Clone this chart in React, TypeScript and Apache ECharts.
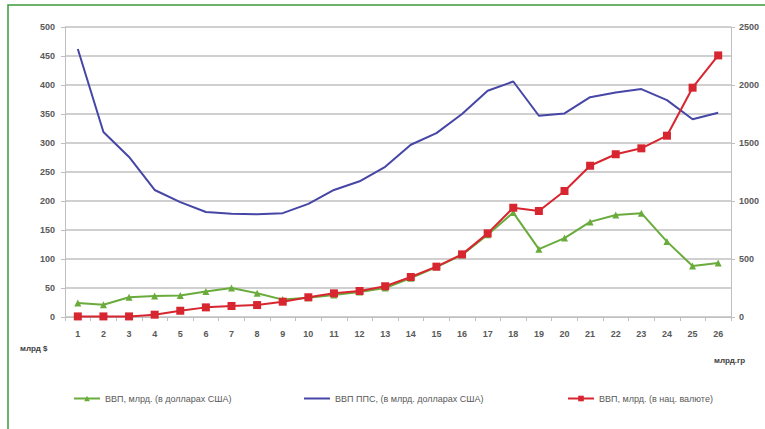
import React, { useEffect, useRef } from "react";
import * as echarts from "echarts";

const categories = ["1","2","3","4","5","6","7","8","9","10","11","12","13","14","15","16","17","18","19","20","21","22","23","24","25","26"];
const gdpUsd = [24, 21, 34, 36, 37, 44, 50, 41, 30, 33, 38, 43, 50, 67, 86, 107, 142, 180, 117, 136, 164, 176, 179, 130, 88, 93];
const gdpPpp = [462, 319, 276, 219, 198, 181, 178, 177, 179, 195, 219, 234, 259, 297, 317, 350, 390, 406, 347, 351, 379, 387, 393, 374, 341, 352];
const gdpLocal = [5, 5, 5, 20, 54, 83, 95, 103, 132, 170, 204, 224, 265, 345, 434, 540, 721, 942, 914, 1086, 1304, 1403, 1454, 1563, 1977, 2255];
const leftTicks = { min: 0, max: 500, interval: 50 };
const rightTicks = { min: 0, max: 2500, interval: 500 };
const names = ["ВВП, млрд. (в долларах США)", "ВВП ППС, (в млрд. долларах США)", "ВВП, млрд. (в нац. валюте)"];
const axisNames = ["млрд $", "млрд.гр"];

export default function App() {
  const ref = useRef<HTMLDivElement>(null);
  useEffect(() => {
    if (!ref.current) return;
    const chart = echarts.init(ref.current, null, { renderer: "svg" });
    const font = "Liberation Sans";
    const txt = { color: "#595959", fontSize: 9, fontFamily: font, fontWeight: "bold" as const };
    const legTxt = { ...txt, fontWeight: "normal" as const, fontSize: 9 };
    chart.setOption({
      animation: false,
      backgroundColor: "#fff",
      textStyle: { fontFamily: font },
      grid: { left: 65, right: 34, top: 27, bottom: 112 },
      legend: [
        { data: [names[0]], left: 68, top: 389, itemWidth: 26, itemHeight: 7, textStyle: legTxt },
        { data: [{ name: names[1], itemStyle: { opacity: 0 } }], left: 298, top: 389, itemWidth: 26, itemHeight: 7, textStyle: legTxt },
        { data: [names[2]], left: 562, top: 389, itemWidth: 26, itemHeight: 7, textStyle: legTxt },
      ],
      xAxis: {
        type: "category",
        data: categories,
        boundaryGap: true,
        axisLine: { lineStyle: { color: "#bfbfbf", width: 1 } },
        axisTick: { show: true, length: 4, lineStyle: { color: "#bfbfbf" } },
        axisLabel: { ...txt, margin: 12, interval: 0 },
      },
      yAxis: [
        {
          type: "value",
          ...leftTicks,
          axisLine: { show: true, lineStyle: { color: "#bfbfbf" } },
          axisTick: { show: true, length: 4, lineStyle: { color: "#bfbfbf" } },
          axisLabel: { ...txt, margin: 10 },
          splitLine: { lineStyle: { color: "#d0d0d0", width: 2 } },
        },
        {
          type: "value",
          ...rightTicks,
          position: "right",
          axisLine: { show: true, lineStyle: { color: "#bfbfbf" } },
          axisTick: { show: true, length: 4, lineStyle: { color: "#bfbfbf" } },
          axisLabel: { ...txt, margin: 8, formatter: (v: number) => String(v) },
          splitLine: { show: false },
        },
      ],
      series: [
        {
          name: names[0],
          type: "line",
          yAxisIndex: 0,
          data: gdpUsd,
          symbol: "triangle",
          symbolSize: 7,
          z: 3,
          lineStyle: { color: "#6aac3c", width: 2 },
          itemStyle: { color: "#6aac3c" },
        },
        {
          name: names[1],
          type: "line",
          yAxisIndex: 0,
          data: gdpPpp,
          symbol: "none",
          z: 2,
          lineStyle: { color: "#4646a6", width: 2 },
          itemStyle: { color: "#4646a6" },
        },
        {
          name: names[2],
          type: "line",
          yAxisIndex: 1,
          data: gdpLocal,
          symbol: "rect",
          symbolSize: 8,
          z: 4,
          lineStyle: { color: "#d7262f", width: 2 },
          itemStyle: { color: "#d7262f" },
        },
      ],
      graphic: [
        { type: "rect", shape: { x: 8, y: 5, width: 800, height: 440 }, style: { fill: "none", stroke: "#3a9a3a", lineWidth: 1.5 }, silent: true },
        { type: "text", x: 20, y: 344, style: { text: axisNames[0], ...txt, fill: "#404040", fontSize: 8 } },
        { type: "text", x: 714, y: 356, style: { text: axisNames[1], ...txt, fill: "#404040", fontSize: 8 } },
      ],
    });
    return () => chart.dispose();
  }, []);
  return <div ref={ref} style={{ position: "absolute", left: 0, top: 0, width: 765, height: 429 }} />;
}
